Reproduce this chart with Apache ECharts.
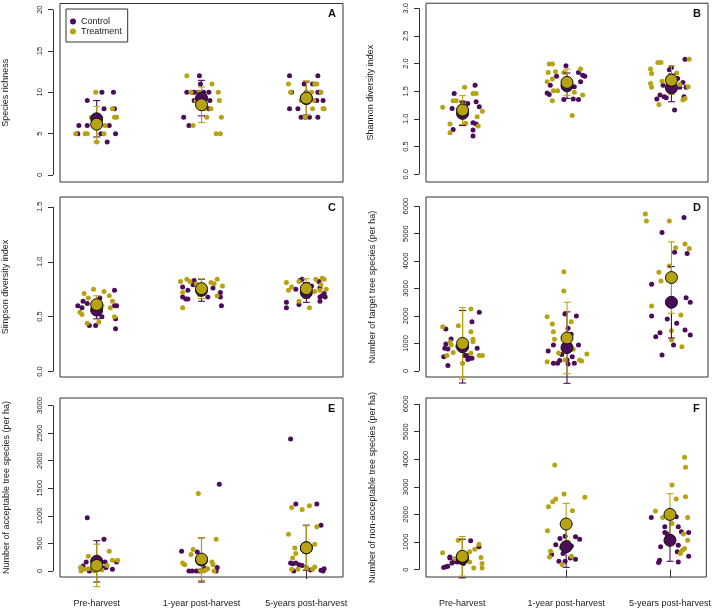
<!DOCTYPE html>
<html>
<head>
<meta charset="utf-8">
<script src="https://cdn.jsdelivr.net/npm/echarts@6/dist/echarts.min.js"></script>
<style>
html, body { margin: 0; padding: 0; background: #fff; }
#main { width: 714px; height: 612px; }
</style>
</head>
<body>
<div id="main"></div>
<script>
var categories = ["Pre-harvest", "1-year post-harvest", "5-years post-harvest"];
var panelLetters = ["A", "B", "C", "D", "E", "F"];
var yTitles = [
  "Species richness",
  "Shannon diversity index",
  "Simpson diversity index",
  "Number of target tree species (per ha)",
  "Number of acceptable tree species (per ha)",
  "Number of non-acceptable tree species (per ha)"
];
var yTicks = [
  [0, 5, 10, 15, 20],
  [0, 0.5, 1, 1.5, 2, 2.5, 3],
  [0, 0.5, 1, 1.5],
  [0, 1000, 2000, 3000, 4000, 5000, 6000],
  [0, 500, 1000, 1500, 2000, 2500, 3000],
  [0, 1000, 2000, 3000, 4000, 5000, 6000]
];
var yTickLabels = [
  ["0", "5", "10", "15", "20"],
  ["0.0", "0.5", "1.0", "1.5", "2.0", "2.5", "3.0"],
  ["0.0", "0.5", "1.0", "1.5"],
  ["0", "1000", "2000", "3000", "4000", "5000", "6000"],
  ["0", "500", "1000", "1500", "2000", "2500", "3000"],
  ["0", "1000", "2000", "3000", "4000", "5000", "6000"]
];

// plot values: [group + jitter, value]
var richnessControl = [[1.05,10],[1.16,10],[0.91,9],[1.07,8],[1.17,8],[0.83,6],[0.91,6],[1.12,6],[1.03,6],[0.82,5],[1.04,5],[1.18,5],[1.10,4],
  [1.98,12],[1.99,11],[1.86,10],[1.91,10],[1.93,10],[1.97,10],[2.07,10],[2.02,10],[1.93,9],[1.96,9],[2.08,9],[2.0,9],[2.07,8],[1.83,7],[1.88,6],
  [2.84,12],[3.11,12],[2.98,11],[3.06,11],[2.86,10],[3.11,10],[3.13,10],[3.0,10],[3.10,9],[3.16,9],[2.84,8],[2.92,8],[2.95,7],[2.99,7],[3.03,7],[3.11,7]];
var richnessTreatment = [[0.99,10],[1.15,8],[1.17,7],[1.19,7],[0.95,7],[1.08,6],[1.0,6],[0.80,5],[0.89,5],[0.91,5],[1.07,5],[1.00,4],
  [1.86,12],[2.10,11],[2.16,10],[1.98,10],[1.90,10],[1.95,9],[2.17,9],[2.0,9],[2.09,8],[2.03,8],[2.05,7],[2.19,7],[1.92,6],[2.14,5],[2.18,5],
  [2.83,11],[3.08,11],[3.10,11],[2.85,10],[3.05,10],[3.14,10],[3.0,10],[3.07,9],[2.95,9],[3.06,8],[3.16,8],[3.17,8],[2.99,7]];
var richnessMeanC = [6.8, 9.3, 9.25], richnessSdC = [2.2, 2.15, 2.0];
var richnessMeanT = [6.15, 8.5, 9.3], richnessSdT = [2.15, 2.15, 2.1];

var shannonControl = [[0.90,1.19],[0.91,0.81],[0.92,1.46],[1.0,1.29],[1.05,1.28],[1.12,1.61],[1.13,1.31],[1.16,1.22],[1.10,0.93],[1.13,0.91],[1.10,0.80],[1.10,0.69],[0.98,1.05],[1.02,1.10],
  [1.99,1.96],[1.90,1.77],[1.84,1.61],[1.81,1.47],[1.83,1.44],[1.97,1.35],[2.06,1.36],[2.11,1.35],[2.07,1.58],[2.11,1.84],[2.15,1.79],[2.17,1.77],[2.13,1.67],[2.0,1.55],
  [2.86,1.36],[2.89,1.43],[2.93,1.40],[2.95,1.38],[2.92,1.61],[2.98,1.89],[3.0,1.93],[3.03,1.16],[3.06,1.73],[3.08,1.57],[3.11,1.66],[3.12,1.40],[3.13,2.08],[3.14,1.57],[3.0,1.5]];
var shannonTreatment = [[0.81,1.21],[0.88,0.91],[0.88,0.75],[0.91,1.33],[0.94,1.33],[1.02,1.57],[1.10,1.46],[1.13,1.46],[1.19,1.14],[1.14,1.04],[1.03,0.92],[1.15,0.87],[0.97,1.20],[1.0,1.25],
  [1.83,1.99],[1.86,1.99],[1.82,1.84],[1.89,1.85],[1.97,1.84],[1.86,1.72],[1.81,1.67],[1.87,1.51],[1.91,1.51],[1.86,1.33],[2.07,1.48],[2.05,1.06],[2.13,1.90],[2.15,1.43],[2.0,1.70],
  [2.80,1.90],[2.81,1.82],[2.80,1.64],[2.81,1.57],[2.88,1.26],[2.87,2.02],[2.90,2.02],[2.91,1.68],[3.05,1.83],[3.11,1.34],[3.13,1.37],[3.17,2.08],[3.16,1.58],[3.08,1.62],[2.97,1.75]];
var shannonMeanC = [1.10, 1.60, 1.56], shannonSdC = [0.22, 0.23, 0.25];
var shannonMeanT = [1.16, 1.66, 1.70], shannonSdT = [0.26, 0.24, 0.26];

var simpsonControl = [[0.82,0.60],[0.86,0.58],[0.87,0.64],[0.91,0.62],[0.93,0.42],[0.99,0.42],[1.03,0.67],[1.17,0.74],[1.17,0.60],[1.19,0.60],[1.18,0.48],[1.18,0.39],[1.0,0.55],[1.05,0.50],
  [1.82,0.77],[1.82,0.68],[1.85,0.66],[1.87,0.66],[1.87,0.74],[1.92,0.79],[1.93,0.83],[2.11,0.76],[2.18,0.72],[2.18,0.68],[2.19,0.60],[2.06,0.68],[2.0,0.72],[1.97,0.78],
  [2.81,0.63],[2.81,0.58],[2.93,0.61],[2.94,0.83],[2.96,0.84],[3.12,0.82],[3.13,0.76],[3.13,0.68],[3.15,0.69],[3.17,0.71],[3.18,0.68],[3.13,0.64],[2.90,0.75],[3.05,0.78]];
var simpsonTreatment = [[0.84,0.54],[0.86,0.52],[0.88,0.71],[0.92,0.67],[0.91,0.44],[0.97,0.75],[1.07,0.73],[1.02,0.45],[1.12,0.69],[1.15,0.64],[1.13,0.58],[1.17,0.50],[1.05,0.60],[0.97,0.62],
  [1.80,0.82],[1.86,0.84],[1.89,0.82],[1.82,0.72],[1.82,0.58],[2.09,0.81],[2.12,0.80],[2.15,0.84],[2.20,0.78],[2.15,0.69],[1.95,0.80],[2.03,0.76],[1.98,0.70],
  [2.81,0.81],[2.83,0.74],[2.86,0.77],[2.93,0.64],[2.93,0.82],[3.03,0.58],[3.09,0.84],[3.13,0.74],[3.14,0.79],[3.15,0.85],[3.17,0.84],[3.19,0.75],[3.08,0.73],[3.0,0.70]];
var simpsonMeanC = [0.56, 0.74, 0.72], simpsonSdC = [0.08, 0.10, 0.09];
var simpsonMeanT = [0.61, 0.755, 0.755], simpsonSdT = [0.08, 0.09, 0.09];

var targetControl = [[0.84,1527],[0.84,982],[0.83,824],[0.86,800],[0.89,1164],[0.86,194],[0.82,521],[1.04,558],[1.07,461],[1.09,1794],[1.09,461],[1.14,824],[1.16,2133],[1.02,560],[1.05,420],
  [1.82,727],[1.87,945],[1.87,279],[1.91,279],[1.98,2073],[2.01,1551],[2.04,1333],[2.01,255],[2.05,521],[2.07,279],[2.09,2000],[2.11,945],[1.95,600],[2.0,400],[1.93,380],
  [2.91,5042],[3.12,5588],[3.03,4315],[3.15,4278],[2.81,3151],[3.14,2667],[3.18,2497],[2.81,2000],[2.96,1891],[3.05,1733],[2.89,1394],[2.85,1248],[3.13,1491],[3.18,1309],[3.02,945],[2.91,582]];
var targetTreatment = [[0.81,1612],[0.89,945],[0.85,558],[0.91,667],[0.96,1648],[1.0,279],[1.08,1430],[1.08,2254],[1.10,1152],[1.10,1067],[1.08,642],[1.16,558],[1.19,558],[0.88,1050],[0.95,900],
  [1.81,1976],[1.86,1709],[1.87,1430],[1.88,1152],[1.81,339],[1.97,3612],[1.97,2909],[2.04,1794],[1.98,400],[2.06,788],[2.12,400],[2.14,364],[2.19,618],[1.92,650],[2.0,900],
  [2.75,5709],[2.76,5455],[2.98,5455],[3.13,4618],[3.04,4485],[3.17,4460],[2.98,3818],[2.88,3588],[2.90,3273],[2.81,2364],[3.09,2036],[3.0,1467],[3.0,1127],[3.10,885],[2.97,3300]];
var targetMeanC = [880, 850, 2500], targetSdC = [1320, 1300, 1300];
var targetMeanT = [1000, 1200, 3400], targetSdT = [1300, 1300, 1300];

var acceptControl = [[0.91,964],[1.07,576],[0.90,164],[0.87,91],[0.85,60],[1.19,164],[1.08,164],[1.15,30],[1.06,55],[1.09,61],[0.95,20],[1.0,150],[0.93,0],[1.02,80],
  [1.81,358],[1.88,0],[1.91,0],[1.95,0],[1.98,0],[1.96,345],[2.17,1570],[2.15,61],[2.14,0],[2.03,50],[2.0,180],
  [2.85,2394],[2.90,1212],[3.10,1212],[3.14,830],[2.85,145],[2.87,133],[2.90,145],[2.93,115],[3.14,12],[3.17,42],[3.16,0],[2.96,100],[3.0,60],[3.04,20],[2.88,0]];
var acceptTreatment = [[0.92,267],[1.12,358],[0.85,61],[0.85,0],[1.15,194],[1.20,194],[1.03,73],[0.92,42],[0.97,12],[1.05,20],[0.88,30],[1.10,100],[0.98,0],
  [1.92,388],[1.90,297],[1.82,145],[1.84,115],[1.97,1406],[2.14,576],[2.06,42],[2.10,164],[2.11,115],[2.12,0],[2.02,0],[2.04,20],[1.99,10],
  [2.86,1152],[2.96,1115],[3.03,1182],[3.10,800],[2.83,667],[3.08,485],[2.89,418],[2.87,236],[2.90,315],[2.86,30],[2.92,30],[3.06,30],[3.08,73],[3.0,60]];
var acceptMeanC = [175, 200, 420], acceptSdC = [375, 400, 410];
var acceptMeanT = [100, 215, 420], acceptSdT = [385, 385, 400];

var nonAcceptControl = [[0.82,73],[0.86,121],[0.88,460],[0.90,242],[1.01,218],[1.08,1042],[1.16,824],[1.04,460],[0.95,279],[0.84,100],[0.92,300],[1.0,350],[0.88,420],
  [1.94,1127],[1.99,1212],[2.09,1188],[2.13,1103],[1.86,545],[1.97,582],[1.93,303],[1.99,303],[2.04,424],[2.09,376],[2.0,900],[1.90,900],[2.05,850],
  [2.82,1891],[3.06,1915],[2.95,1551],[3.08,1551],[2.95,1345],[2.97,1300],[3.11,1370],[3.18,1345],[2.91,824],[3.08,885],[3.07,642],[2.90,339],[2.89,255],[3.08,279],[3.18,485]];
var nonAcceptTreatment = [[0.81,606],[0.96,1067],[1.07,642],[1.12,739],[1.16,921],[1.18,436],[1.19,218],[1.19,61],[1.11,61],[1.07,279],[0.93,400],[1.02,300],[0.98,520],
  [1.89,3794],[1.83,2279],[1.87,2461],[1.90,2558],[1.98,2740],[2.06,2133],[2.18,2618],[1.82,1406],[1.85,667],[1.84,460],[1.96,182],[2.05,485],[2.02,1000],[1.95,800],
  [3.14,4073],[3.15,3709],[3.02,3067],[3.15,2642],[3.06,2558],[2.86,2121],[2.93,1891],[3.17,1891],[3.02,1673],[3.13,1285],[3.17,1067],[3.14,764],[3.12,700],[3.10,582],[3.0,1900]];
var nonAcceptMeanC = [400, 830, 1060], nonAcceptSdC = [700, 750, 760];
var nonAcceptMeanT = [480, 1650, 2000], nonAcceptSdT = [720, 750, 750];

var panels = [
  { ctrl: richnessControl, trt: richnessTreatment, mc: richnessMeanC, sc: richnessSdC, mt: richnessMeanT, st: richnessSdT },
  { ctrl: shannonControl, trt: shannonTreatment, mc: shannonMeanC, sc: shannonSdC, mt: shannonMeanT, st: shannonSdT },
  { ctrl: simpsonControl, trt: simpsonTreatment, mc: simpsonMeanC, sc: simpsonSdC, mt: simpsonMeanT, st: simpsonSdT },
  { ctrl: targetControl, trt: targetTreatment, mc: targetMeanC, sc: targetSdC, mt: targetMeanT, st: targetSdT },
  { ctrl: acceptControl, trt: acceptTreatment, mc: acceptMeanC, sc: acceptSdC, mt: acceptMeanT, st: acceptSdT },
  { ctrl: nonAcceptControl, trt: nonAcceptTreatment, mc: nonAcceptMeanC, sc: nonAcceptSdC, mt: nonAcceptMeanT, st: nonAcceptSdT }
];

// layout (pixels) and axis extents of each panel box
var boxes = [
  { left: 60, top: 3.5, width: 283, height: 178.5, ymin: -0.85, ymax: 20.75, nameGap: 43 },
  { left: 426, top: 3, width: 282, height: 179, ymin: -0.14, ymax: 3.09, nameGap: 44 },
  { left: 60, top: 197, width: 283, height: 180, ymin: -0.05, ymax: 1.59, nameGap: 43 },
  { left: 426, top: 197, width: 282, height: 180, ymin: -220, ymax: 6330, nameGap: 42 },
  { left: 60, top: 398, width: 283, height: 179, ymin: -109, ymax: 3135, nameGap: 42 },
  { left: 426, top: 398, width: 282, height: 179, ymin: -269, ymax: 6218, nameGap: 42 }
];
var XMIN = 0.65, XMAX = 3.35;
var purple = "#4b0c5a";
var olive = "#b7a311";
var ink = "#333";
var font = "Liberation Sans, Arial, sans-serif";

function pairs(means, sds) {
  return means.map(function (m, i) { return [i + 1, m, sds[i]]; });
}

function errorBar(color) {
  return function (params, api) {
    var x = api.value(0), m = api.value(1), s = api.value(2);
    var hi = api.coord([x, m + s]);
    var lo = api.coord([x, m - s]);
    var w = 3.5;
    var st = { stroke: color, lineWidth: 1.1 };
    return {
      type: "group",
      children: [
        { type: "line", shape: { x1: hi[0], y1: hi[1], x2: lo[0], y2: lo[1] }, style: st },
        { type: "line", shape: { x1: hi[0] - w, y1: hi[1], x2: hi[0] + w, y2: hi[1] }, style: st },
        { type: "line", shape: { x1: lo[0] - w, y1: lo[1], x2: lo[0] + w, y2: lo[1] }, style: st }
      ]
    };
  };
}

var grid = [], xAxis = [], yAxis = [], series = [], graphic = [];

boxes.forEach(function (b, i) {
  var bottomRow = i >= 4;
  grid.push({
    left: b.left, top: b.top, width: b.width, height: b.height,
    show: true, borderColor: ink, borderWidth: 1, backgroundColor: "transparent"
  });
  xAxis.push({
    type: "value", gridIndex: i, min: XMIN, max: XMAX,
    show: bottomRow,
    splitLine: { show: false },
    axisLine: { show: false },
    axisTick: { show: bottomRow, length: 8, customValues: [1, 2, 3], lineStyle: { color: ink } },
    axisLabel: {
      show: bottomRow, customValues: [1, 2, 3], margin: 22,
      fontSize: 9, color: "#222", fontFamily: font,
      formatter: function (v) { return categories[Math.round(v) - 1]; }
    }
  });
  var ticks = yTicks[i], labels = yTickLabels[i];
  yAxis.push({
    type: "value", gridIndex: i, min: b.ymin, max: b.ymax, offset: 7,
    name: yTitles[i], nameLocation: "middle", nameRotate: 90, nameGap: b.nameGap,
    nameTextStyle: { fontSize: 9, color: "#222", fontFamily: font },
    splitLine: { show: false },
    axisLine: { show: false },
    axisTick: { show: true, length: 5, customValues: ticks, lineStyle: { color: ink } },
    axisLabel: {
      customValues: ticks, rotate: 90, margin: 9,
      fontSize: 7.5, color: "#222", fontFamily: font,
      formatter: function (v) {
        var k = ticks.indexOf(v);
        return k >= 0 ? labels[k] : "";
      }
    }
  });

  var p = panels[i];
  series.push({
    name: "Control", type: "scatter", xAxisIndex: i, yAxisIndex: i,
    data: p.ctrl, symbolSize: 5, itemStyle: { color: purple, opacity: 1 }, z: 2
  });
  series.push({
    name: "Treatment", type: "scatter", xAxisIndex: i, yAxisIndex: i,
    data: p.trt, symbolSize: 5, itemStyle: { color: olive, opacity: 1 }, z: 2
  });
  series.push({
    type: "custom", xAxisIndex: i, yAxisIndex: i, silent: true,
    data: pairs(p.mc, p.sc), renderItem: errorBar(purple), encode: { x: 0, y: 1 }, z: 3
  });
  series.push({
    type: "custom", xAxisIndex: i, yAxisIndex: i, silent: true,
    data: pairs(p.mt, p.st), renderItem: errorBar(olive), encode: { x: 0, y: 1 }, z: 3
  });
  series.push({
    name: "Control mean", type: "scatter", xAxisIndex: i, yAxisIndex: i,
    data: p.mc.map(function (m, k) { return [k + 1, m]; }),
    symbolSize: 12, itemStyle: { color: purple, borderColor: "#111", borderWidth: 1, opacity: 1 }, z: 4
  });
  series.push({
    name: "Treatment mean", type: "scatter", xAxisIndex: i, yAxisIndex: i,
    data: p.mt.map(function (m, k) { return [k + 1, m]; }),
    symbolSize: 12, itemStyle: { color: olive, borderColor: "#111", borderWidth: 1, opacity: 1 }, z: 4
  });

  graphic.push({
    type: "text",
    left: b.left + b.width - 15, top: b.top + 5,
    style: { text: panelLetters[i], font: "bold 11px " + font, fill: "#111" }
  });
});

var chart = echarts.init(document.getElementById("main"));
chart.setOption({
  animation: false,
  backgroundColor: "#fff",
  textStyle: { fontFamily: font },
  grid: grid,
  xAxis: xAxis,
  yAxis: yAxis,
  legend: {
    data: ["Control", "Treatment"],
    orient: "vertical", left: 66, top: 9,
    padding: [8, 6, 6, 4], itemGap: 1,
    itemWidth: 6, itemHeight: 6, icon: "circle",
    borderColor: ink, borderWidth: 1, selectedMode: false,
    textStyle: { fontSize: 9, color: "#222", fontFamily: font }
  },
  graphic: graphic,
  series: series
});

// R-style y axis line: spans only from the first to the last tick, set 7px left of the box
var axisLines = boxes.map(function (b, i) {
  var ticks = yTicks[i];
  var a = chart.convertToPixel({ gridIndex: i }, [XMIN, ticks[0]]);
  var c = chart.convertToPixel({ gridIndex: i }, [XMIN, ticks[ticks.length - 1]]);
  var x = Math.round(a[0] - 7) + 0.5;
  return {
    type: "line", silent: true, z: 100,
    shape: { x1: x, y1: a[1], x2: x, y2: c[1] },
    style: { stroke: ink, lineWidth: 1 }
  };
});
chart.setOption({ graphic: graphic.concat(axisLines) });
</script>
</body>
</html>
